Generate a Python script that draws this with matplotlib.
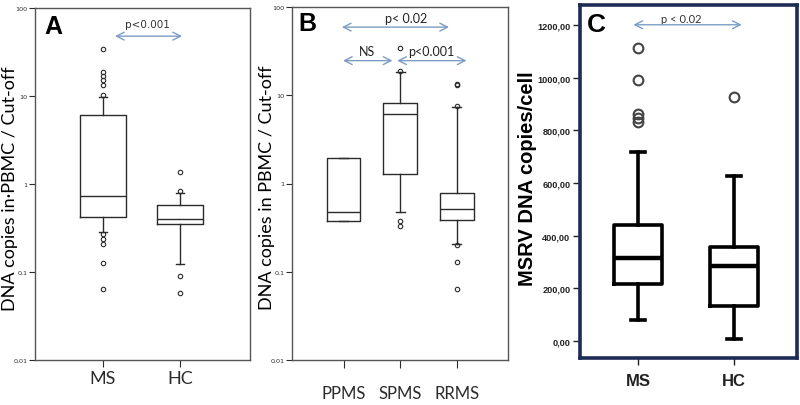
import matplotlib
matplotlib.use('Agg')
import matplotlib.pyplot as plt

# Panel A: MS vs HC, DNA copies in PBMC / cut-off (log scale)
a_labels = ['MS', 'HC']
a_med = [0.73, 0.40]
a_q1 = [0.42, 0.35]
a_q3 = [6.1, 0.57]
a_whislo = [0.285, 0.123]
a_whishi = [9.8, 0.80]
a_fliers = [[34, 18.6, 16.8, 15.1, 13.3, 10.4, 0.27, 0.24, 0.21, 0.128, 0.064],
            [1.37, 0.83, 0.09, 0.058]]

# Panel B: PPMS / SPMS / RRMS
b_labels = ['PPMS', 'SPMS', 'RRMS']
b_med = [0.48, 6.1, 0.51]
b_q1 = [0.38, 1.29, 0.39]
b_q3 = [1.92, 8.1, 0.79]
b_whislo = [0.38, 0.48, 0.206]
b_whishi = [1.92, 18.3, 7.4]
b_fliers = [[],
            [34, 19, 0.38, 0.33],
            [13.5, 12.9, 7.5, 0.2, 0.128, 0.063]]

# Panel C: MSRV DNA copies/cell
c_labels = ['MS', 'HC']
c_med = [315, 285]
c_q1 = [216, 133]
c_q3 = [440, 358]
c_whislo = [80, 8]
c_whishi = [718, 628]
c_fliers = [[1111, 991, 862, 848, 831], [928]]

log_ticks = [0.01, 0.1, 1, 10, 100]
log_ticklabels = ['0,01', '0,1', '1', '10', '100']
c_ticks = [0, 200, 400, 600, 800, 1000, 1200]
c_ticklabels = ['0,00', '200,00', '400,00', '600,00', '800,00', '1000,00', '1200,00']

body_font = 'Lato'
narrow = ['Liberation Sans Narrow', 'Liberation Sans']
arrow_col = '#7d9cc4'


def make_stats(labels, med, q1, q3, lo, hi, fl):
    out = []
    for i in range(len(labels)):
        out.append({'label': labels[i], 'med': med[i], 'q1': q1[i], 'q3': q3[i],
                    'whislo': lo[i], 'whishi': hi[i], 'fliers': fl[i]})
    return out


def arrow(ax, x1, x2, y, color=arrow_col):
    ax.annotate('', xy=(x2, y), xytext=(x1, y), xycoords='axes fraction',
                textcoords='axes fraction',
                arrowprops=dict(arrowstyle='<->,head_length=0.55,head_width=0.28',
                                color=color, lw=1.0, shrinkA=0, shrinkB=0))


fig = plt.figure(figsize=(8, 4.06), dpi=100)

line = '#2b2b2b'
thin = dict(color=line, linewidth=1.0)
small_flier = dict(marker='o', markersize=3.2, markerfacecolor='none',
                   markeredgecolor=line, markeredgewidth=0.8, linestyle='none')


def log_panel(ax):
    ax.set_yscale('log')
    ax.set_ylim(0.01, 100)
    ax.set_yticks(log_ticks)
    ax.set_yticklabels(log_ticklabels)
    ax.minorticks_off()
    ax.tick_params(axis='y', labelsize=4.6, length=4, width=0.8, colors=line, pad=1.5)
    for s in ax.spines.values():
        s.set_color('#555555')
        s.set_linewidth(1.0)


# ---- A ----
axA = fig.add_axes([35 / 800, 45 / 406, 215 / 800, 352 / 406])
axA.bxp(make_stats(a_labels, a_med, a_q1, a_q3, a_whislo, a_whishi, a_fliers),
        positions=[1, 2], widths=0.61, capwidths=0.1,
        boxprops=thin, whiskerprops=thin, capprops=thin, medianprops=thin,
        flierprops=small_flier)
log_panel(axA)
axA.set_xlim(0.117, 2.909)
axA.set_xticks([1, 2])
axA.set_xticklabels(a_labels, fontsize=13, family=body_font)
axA.tick_params(axis='x', length=5, width=0.8, colors=line, pad=2)
axA.set_ylabel('DNA copies in\u00b7PBMC / Cut-off', fontsize=13, family=body_font, labelpad=0)
axA.yaxis.set_label_coords(-0.081, 0.49)
axA.text(0.084, 0.949, 'A', transform=axA.transAxes, fontsize=18, fontweight='bold',
         family='Liberation Sans', ha='center', va='center')
axA.text(0.521, 0.955, 'p<0.001', transform=axA.transAxes, fontsize=7.5,
         family='DejaVu Sans', ha='center', va='center', color='#333333')
arrow(axA, 0.372, 0.684, 0.920)

# ---- B ----
axB = fig.add_axes([292 / 800, 45 / 406, 216 / 800, 353 / 406])
axB.bxp(make_stats(b_labels, b_med, b_q1, b_q3, b_whislo, b_whishi, b_fliers),
        positions=[1, 2, 3], widths=0.6, capwidths=0.16,
        boxprops=thin, whiskerprops=thin, capprops=thin, medianprops=thin,
        flierprops=small_flier)
log_panel(axB)
axB.set_xlim(0.09, 3.906)
axB.set_xticks([1, 2, 3])
axB.set_xticklabels(b_labels, fontsize=12, family=body_font)
axB.tick_params(axis='x', length=6, width=0.8, colors=line, pad=12)
axB.set_ylabel('DNA copies in PBMC / Cut-off', fontsize=13, family=body_font, labelpad=0)
axB.yaxis.set_label_coords(-0.080, 0.49)
axB.text(0.069, 0.955, 'B', transform=axB.transAxes, fontsize=18, fontweight='bold',
         family='Liberation Sans', ha='center', va='center')
axB.text(0.530, 0.970, 'p< 0.02', transform=axB.transAxes, fontsize=9,
         family=body_font, ha='center', va='center', color='#222222')
arrow(axB, 0.231, 0.727, 0.943)
axB.text(0.347, 0.874, 'NS', transform=axB.transAxes, fontsize=9,
         family=body_font, ha='center', va='center', color='#222222')
arrow(axB, 0.236, 0.465, 0.848)
axB.text(0.643, 0.874, 'p<0.001', transform=axB.transAxes, fontsize=9,
         family=body_font, ha='center', va='center', color='#222222')
arrow(axB, 0.487, 0.808, 0.848)

# ---- C ----
axC = fig.add_axes([580 / 800, 47 / 406, 217 / 800, 353 / 406])
thick = dict(color='black', linewidth=2.6)
big_flier = dict(marker='o', markersize=7, markerfacecolor='none',
                 markeredgecolor='#444444', markeredgewidth=1.5, linestyle='none')
axC.bxp(make_stats(c_labels, c_med, c_q1, c_q3, c_whislo, c_whishi, c_fliers),
        positions=[1, 2], widths=0.5, capwidths=0.15,
        boxprops=thick, whiskerprops=thick, capprops=thick,
        medianprops=dict(color='black', linewidth=3.2), flierprops=big_flier)
axC.set_xlim(0.396, 2.656)
axC.set_ylim(-64.6, 1276)
axC.set_yticks(c_ticks)
axC.set_yticklabels(c_ticklabels, fontsize=6.6, fontweight='bold', family=narrow)
axC.set_xticks([1, 2])
axC.set_xticklabels(c_labels, fontsize=12, fontweight='bold', family=narrow)
axC.tick_params(axis='y', length=5, width=1.0, colors='#222222', pad=2)
axC.tick_params(axis='x', length=5, width=1.0, colors='#222222', pad=6)
for s in axC.spines.values():
    s.set_color('#1d2b55')
    s.set_linewidth(2.6)
axC.set_ylabel('MSRV DNA copies/cell', fontsize=14.5, fontweight='bold',
               family='Liberation Sans', labelpad=0)
axC.yaxis.set_label_coords(-0.198, 0.51)
axC.text(0.074, 0.946, 'C', transform=axC.transAxes, fontsize=19, fontweight='bold',
         family='Liberation Sans', ha='center', va='center')
axC.text(0.468, 0.963, 'p < 0.02', transform=axC.transAxes, fontsize=8,
         family=body_font, ha='center', va='center', color='#333333')
arrow(axC, 0.246, 0.745, 0.944)

fig.savefig('out.png', dpi=100)
